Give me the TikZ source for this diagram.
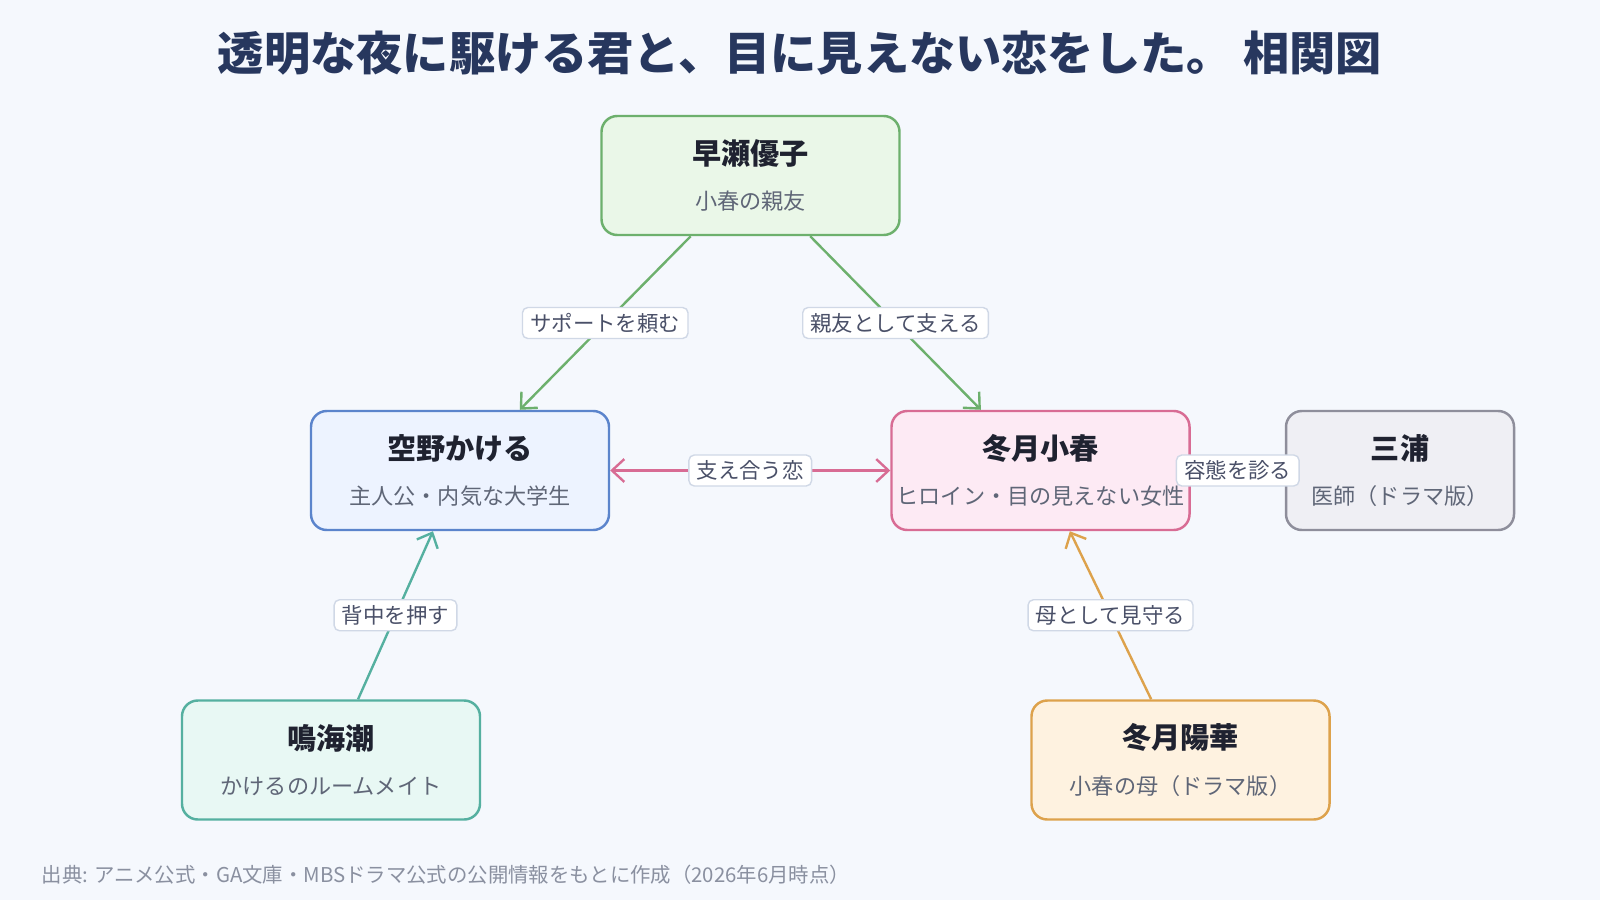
\documentclass[tikz,border=0pt]{standalone}
\usepackage{fontspec}
\setmainfont{Noto Sans CJK JP}
\usepackage{xcolor}
\usepackage{tikz}
\usetikzlibrary{arrows.meta, positioning}
\definecolor{bgblue}{RGB}{245,248,253}
\definecolor{mytitle}{RGB}{39,55,94}
\definecolor{mydark}{RGB}{31,34,48}
\definecolor{mysub}{RGB}{95,102,119}
\definecolor{mylabel}{RGB}{74,80,104}
\definecolor{mytagline}{RGB}{208,216,230}
\definecolor{mynote}{RGB}{138,144,160}
\definecolor{mygreen}{RGB}{109,176,109}
\definecolor{myblue}{RGB}{91,132,204}
\definecolor{mypink}{RGB}{216,108,148}
\definecolor{mygray}{RGB}{142,142,155}
\definecolor{myteal}{RGB}{85,176,160}
\definecolor{myamber}{RGB}{221,162,76}
\definecolor{hdrgreen}{RGB}{234,247,232}
\definecolor{hdrblue}{RGB}{237,243,255}
\definecolor{hdrpink}{RGB}{253,234,244}
\definecolor{hdrgray}{RGB}{239,239,244}
\definecolor{hdrteal}{RGB}{232,248,244}
\definecolor{hdramber}{RGB}{254,242,224}
\newcommand{\who}[1]{{\fontsize{8.3pt}{13pt}\selectfont\bfseries\color{mydark}#1}}
\tikzset{
  block/.style={rectangle, minimum width=2.98cm, minimum height=1.19cm,
    align=center, rounded corners=4.5pt, line width=0.7pt, inner sep=0pt,
    font=\fontsize{6.3pt}{13pt}\selectfont, text=mysub},
  greenblock/.style={block, draw=mygreen, fill=hdrgreen},
  blueblock/.style={block, draw=myblue, fill=hdrblue},
  pinkblock/.style={block, draw=mypink, fill=hdrpink},
  grayblock/.style={block, draw=mygray, fill=hdrgray, minimum width=2.28cm},
  tealblock/.style={block, draw=myteal, fill=hdrteal},
  amberblock/.style={block, draw=myamber, fill=hdramber},
  tag/.style={rectangle, draw=mytagline, fill=white, rounded corners=1.5pt,
    line width=0.4pt, font=\fontsize{6.1pt}{7pt}\selectfont, text=mylabel,
    inner xsep=2.2pt, inner ysep=1pt, minimum height=8.8pt, midway},
  greenarrow/.style={-{Straight Barb[length=3.5pt, width=6.5pt]}, line width=0.68pt, color=mygreen},
  pinkarrow/.style={{Straight Barb[length=3.5pt, width=6.5pt]}-{Straight Barb[length=3.5pt, width=6.5pt]}, line width=0.68pt, color=mypink},
  tealarrow/.style={-{Straight Barb[length=3.5pt, width=6.5pt]}, line width=0.68pt, color=myteal},
  amberarrow/.style={-{Straight Barb[length=3.5pt, width=6.5pt]}, line width=0.68pt, color=myamber},
  grayline/.style={line width=0.68pt, color=mygray}
}
\begin{document}
\begin{tikzpicture}
  % Background
  \fill[bgblue] (0,0) rectangle (16,9);
  \useasboundingbox (0,0) rectangle (16,9);
  \node[font=\fontsize{13.15pt}{15pt}\selectfont\bfseries, text=mytitle] (title) at (8.0,8.47)
    {透明な夜に駆ける君と、目に見えない恋をした。 相関図};
  % People
  \node[greenblock] (hayase) at (7.505,7.245) {\who{早瀬優子}\\小春の親友};
  \node[blueblock] (kakeru) at (4.60,4.295) {\who{空野かける}\\主人公・内気な大学生};
  \node[pinkblock] (koharu) at (10.405,4.295) {\who{冬月小春}\\ヒロイン・目の見えない女性};
  \node[grayblock] (miura) at (14.0,4.295) {\who{三浦}\\医師（ドラマ版）};
  \node[tealblock] (narumi) at (3.31,1.40) {\who{鳴海潮}\\かけるのルームメイト};
  \node[amberblock] (haruka) at (11.805,1.40) {\who{冬月陽華}\\小春の母（ドラマ版）};
  % Relations
  \draw[greenarrow] (hayase) -- node[tag] (support) {サポートを頼む} (kakeru);
  \draw[greenarrow] (hayase) -- node[tag] (bestfriend) {親友として支える} (koharu);
  \draw[pinkarrow] (kakeru) -- node[tag] (love) {支え合う恋} (koharu);
  \draw[grayline] (koharu) -- node[tag] (doctor) {容態を診る} (miura);
  \draw[tealarrow] (narumi) -- node[tag] (push) {背中を押す} (kakeru);
  \draw[amberarrow] (haruka) -- node[tag] (mother) {母として見守る} (koharu);
  % Source note
  \node[anchor=west, font=\fontsize{5.8pt}{7pt}\selectfont, text=mynote, inner sep=0pt] (source) at (0.41,0.25)
    {出典: アニメ公式・GA文庫・MBSドラマ公式の公開情報をもとに作成（2026年6月時点）};
\end{tikzpicture}
\end{document}
